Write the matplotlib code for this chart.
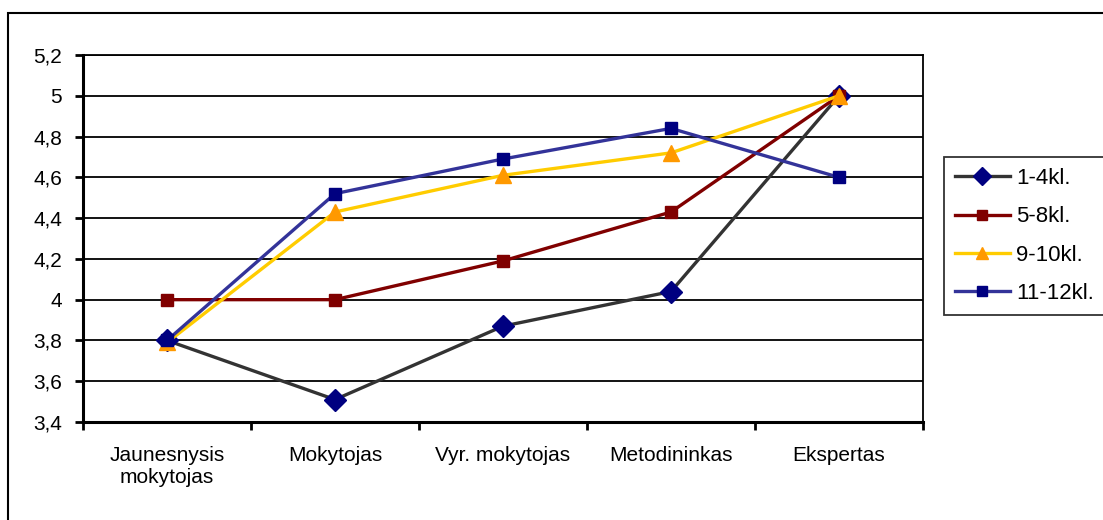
import matplotlib
matplotlib.use("Agg")
import matplotlib.pyplot as plt
from matplotlib.ticker import FixedLocator, FuncFormatter, NullFormatter
from matplotlib.patches import Rectangle
import numpy as np

plt.rcParams['font.family'] = ['Liberation Sans', 'DejaVu Sans']

categories = ["Jaunesnysis\nmokytojas", "Mokytojas", "Vyr. mokytojas", "Metodininkas", "Ekspertas"]
s_1_4 = [3.80, 3.51, 3.87, 4.04, 5.00]
s_5_8 = [4.00, 4.00, 4.19, 4.43, 5.00]
s_9_10 = [3.79, 4.43, 4.61, 4.72, 5.00]
s_11_12 = [3.80, 4.52, 4.69, 4.84, 4.60]
series_names = ["1-4kl.", "5-8kl.", "9-10kl.", "11-12kl."]
y_ticks = [3.4, 3.6, 3.8, 4.0, 4.2, 4.4, 4.6, 4.8, 5.0, 5.2]

W, H = 1103, 520
fig = plt.figure(figsize=(W / 100, H / 100), dpi=100)
fig.patch.set_facecolor('white')

# outer chart border
fig.patches.append(Rectangle((8 / W, -0.1), 1.2, (1 - 13 / H) + 0.1,
                             transform=fig.transFigure, fill=False,
                             edgecolor='black', linewidth=1.5, zorder=0))

ax = fig.add_axes([83 / W, (H - 422) / H, (923 - 83) / W, (422 - 55) / H])

x = np.arange(len(categories)) + 0.5
styles = [
    dict(color='#333333', marker='D', mfc='#000080', mec='#000080', ms=11),
    dict(color='#800000', marker='s', mfc='#800000', mec='#800000', ms=9),
    dict(color='#FFCC00', marker='^', mfc='#FF9900', mec='#FF9900', ms=11),
    dict(color='#333399', marker='s', mfc='#000080', mec='#000080', ms=9),
]
for name, vals, st in zip(series_names, [s_1_4, s_5_8, s_9_10, s_11_12], styles):
    ax.plot(x, vals, linewidth=2.4, label=name, zorder=3, clip_on=False, **st)

ax.set_xlim(0, len(categories))
ax.set_ylim(3.4, 5.2)
ax.yaxis.set_major_locator(FixedLocator(y_ticks))
ax.yaxis.set_major_formatter(FuncFormatter(lambda v, p: ('%g' % round(v, 1)).replace('.', ',')))
ax.grid(axis='y', color='black', linewidth=1.3, zorder=1)
ax.set_axisbelow(True)

ax.xaxis.set_major_locator(FixedLocator(np.arange(len(categories) + 1)))
ax.xaxis.set_major_formatter(NullFormatter())
ax.xaxis.set_minor_locator(FixedLocator(x))
ax.set_xticklabels(categories, minor=True, fontsize=15, linespacing=1.25)
ax.tick_params(axis='x', which='major', length=6, width=2, direction='out', color='black')
ax.tick_params(axis='x', which='minor', length=0, pad=17)
ax.tick_params(axis='y', length=6, width=2, direction='out', labelsize=15, pad=9)

for side in ['left', 'bottom']:
    ax.spines[side].set_linewidth(2.2)
for side in ['top', 'right']:
    ax.spines[side].set_linewidth(1.3)
for s in ax.spines.values():
    s.set_color('black')

leg = fig.legend(loc='upper left', bbox_to_anchor=(944 / W, 1 - 157 / H),
                 bbox_transform=fig.transFigure, borderaxespad=0,
                 fontsize=16, frameon=True, fancybox=False, numpoints=1,
                 markerscale=0.85,
                 handlelength=2.45, handletextpad=0.3, labelspacing=0.78,
                 borderpad=0.5)
leg.get_frame().set_edgecolor('black')
leg.get_frame().set_linewidth(1.3)

fig.savefig('out.png', dpi=100, facecolor='white')
